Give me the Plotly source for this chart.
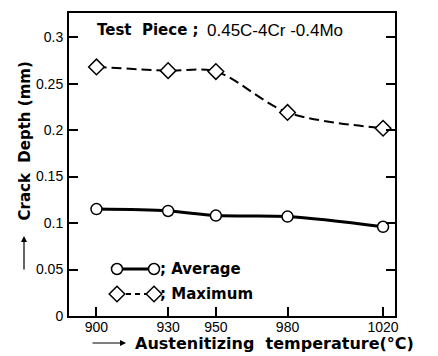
import plotly.graph_objects as go

temps = [900, 930, 950, 980, 1020]
avg_depth = [0.115, 0.113, 0.108, 0.107, 0.096]
max_depth = [0.268, 0.264, 0.263, 0.219, 0.202]
x_ticks = [900, 930, 950, 980, 1020]
y_ticks = [0, 0.05, 0.1, 0.15, 0.2, 0.25, 0.3]
y_tick_text = ["0", "0.05", "0.1", "0.15", "0.2", "0.25", "0.3"]

NARROW = "Liberation Sans Narrow, Arial Narrow, Liberation Sans, sans-serif"
BOLD = "DejaVu Sans, Liberation Sans, sans-serif"

L, T, PW, PH = 69, 13, 326, 303  # plot area in pixels


def px(x):
    return (x - L) / PW


def py(y):
    return (T + PH - y) / PH


fig = go.Figure()
fig.add_trace(go.Scatter(
    x=temps, y=max_depth, mode="lines+markers", line_shape="spline",
    line=dict(color="black", width=2, dash="10px,5px", smoothing=0.9),
    marker=dict(symbol="diamond", size=12, color="white",
                line=dict(color="black", width=1.5)),
    showlegend=False))
fig.add_trace(go.Scatter(
    x=temps, y=avg_depth, mode="lines+markers", line_shape="spline",
    line=dict(color="black", width=3, smoothing=0.9),
    marker=dict(symbol="circle", size=11, color="white",
                line=dict(color="black", width=1.5)),
    showlegend=False))

# manual legend samples on an overlay axis (0..1)
fig.add_trace(go.Scatter(
    x=[px(117), px(154)], y=[py(269), py(269)], xaxis="x2", yaxis="y2",
    mode="lines+markers", line=dict(color="black", width=3),
    marker=dict(symbol="circle", size=11, color="white",
                line=dict(color="black", width=1.5)),
    showlegend=False, hoverinfo="skip"))
fig.add_trace(go.Scatter(
    x=[px(117), px(154)], y=[py(294), py(294)], xaxis="x2", yaxis="y2",
    mode="lines+markers", line=dict(color="black", width=2, dash="5px,4px"),
    marker=dict(symbol="diamond", size=12, color="white",
                line=dict(color="black", width=1.5)),
    showlegend=False, hoverinfo="skip"))

axis_common = dict(showline=True, linecolor="black", linewidth=2, mirror="ticks",
                   ticks="inside", ticklen=9, tickwidth=1.5, tickcolor="black",
                   showgrid=False, zeroline=False,
                   tickfont=dict(family=NARROW, size=14, color="black"))

fig.update_layout(
    width=438, height=356,
    margin=dict(l=L, r=438 - L - PW, t=T, b=356 - T - PH),
    paper_bgcolor="white", plot_bgcolor="white",
    xaxis=dict(range=[888.5, 1025], tickvals=x_ticks,
               ticktext=[str(v) for v in x_ticks], ticklabelstandoff=-3,
               **{**axis_common, "mirror": True}),
    yaxis=dict(range=[0, 0.326], tickvals=y_ticks, ticktext=y_tick_text,
               ticklabelstandoff=1, **axis_common),
    xaxis2=dict(range=[0, 1], overlaying="x", visible=False, fixedrange=True),
    yaxis2=dict(range=[0, 1], overlaying="y", visible=False, fixedrange=True),
    annotations=[
        dict(text="<b>Test  Piece ;</b>", x=px(95), y=py(30), xref="paper", yref="paper",
             xanchor="left", yanchor="middle", showarrow=False,
             font=dict(family=BOLD, size=15, color="black")),
        dict(text="0.45C-4Cr -0.4Mo", x=px(205), y=py(30), xref="paper", yref="paper",
             xanchor="left", yanchor="middle", showarrow=False,
             font=dict(family=NARROW, size=17, color="black")),
        dict(text="<b>; Average</b>", x=px(158), y=py(269), xref="paper", yref="paper",
             xanchor="left", yanchor="middle", showarrow=False,
             font=dict(family=BOLD, size=15, color="black")),
        dict(text="<b>; Maximum</b>", x=px(158), y=py(294), xref="paper", yref="paper",
             xanchor="left", yanchor="middle", showarrow=False,
             font=dict(family=BOLD, size=15, color="black")),
        dict(text="<b>Austenitizing  temperature(°C)</b>", x=px(133), y=py(343),
             xref="paper", yref="paper", showarrow=False,
             xanchor="left", yanchor="middle",
             font=dict(family=BOLD, size=16, color="black")),
        dict(text="", x=px(126), y=py(343), xref="paper", yref="paper",
             showarrow=True, ax=-35, ay=0, arrowhead=2, arrowsize=1,
             arrowwidth=1.2, arrowcolor="black"),
        dict(text="<b>Crack  Depth (mm)</b>", x=px(24), y=py(60),
             xref="paper", yref="paper", showarrow=False, textangle=-90,
             xanchor="center", yanchor="top",
             font=dict(family=BOLD, size=15, color="black")),
        dict(text="", x=px(24), y=py(236), xref="paper", yref="paper",
             showarrow=True, ax=0, ay=35, arrowhead=2, arrowsize=1,
             arrowwidth=1.2, arrowcolor="black"),
    ],
)

fig.write_html("out.html", config={"displayModeBar": False},
               post_script="document.body.style.margin='0px';")
